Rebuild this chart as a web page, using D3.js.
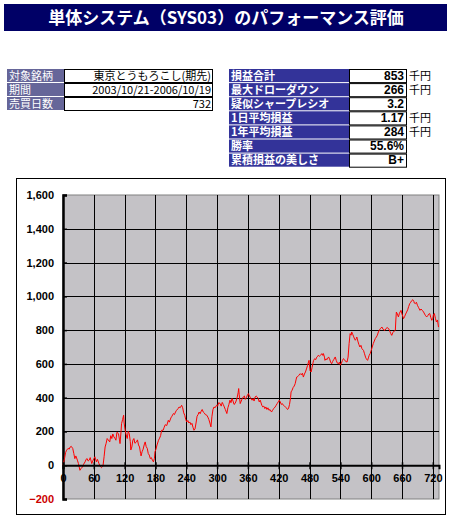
<!DOCTYPE html>
<html><head><meta charset="utf-8">
<script src="https://cdn.jsdelivr.net/npm/d3@7"></script>
<style>
body{margin:0;background:#fff;}
svg{display:block;}
</style></head><body>
<script>
const title = "単体システム（SYS03）のパフォーマンス評価";
const leftLabels = ["対象銘柄","期間","売買日数"];
const leftValues = ["東京とうもろこし(期先)","2003/10/21-2006/10/19","732"];
const rightLabels = ["損益合計","最大ドローダウン","疑似シャープレシオ","1日平均損益","1年平均損益","勝率","累積損益の美しさ"];
const rightValues = ["853","266","3.2","1.17","284","55.6%","B+"];
const rightUnits = ["千円","千円","","千円","千円","",""];
const yTicks = [-200,0,200,400,600,800,1000,1200,1400,1600];
const xTicks = [0,60,120,180,240,300,360,420,480,540,600,660,720];
const days = [0,3,5,7,10,12,14,16,19,21,23,25,28,30,33,35,38,40,43,45,47,49,51,53,56,58,60,62,65,67,70,72,75,77,78,80,82,84,86,88,91,93,95,97,99,101,103,105,108,110,111,113,114,116,118,119,121,123,125,127,129,131,132,134,136,138,140,143,145,147,149,151,152,154,156,158,160,162,164,166,168,170,172,174,176,178,179,181,183,186,188,190,192,195,197,199,202,205,207,210,212,215,217,219,221,224,226,228,231,233,235,237,239,241,243,245,247,249,251,253,255,257,259,261,263,265,267,269,271,273,275,277,280,282,284,286,288,290,292,294,296,299,301,303,306,308,310,312,314,316,319,321,323,325,327,329,331,333,335,337,339,341,342,343,345,347,349,351,353,355,357,359,361,363,365,368,370,372,374,376,378,380,382,384,387,389,391,393,395,397,399,401,403,406,408,410,413,415,417,419,421,423,425,427,429,431,433,435,437,439,441,443,444,446,448,449,451,452,454,455,457,459,461,462,464,466,468,470,472,474,476,478,479,481,483,485,487,488,490,492,494,496,497,499,501,503,504,506,507,509,510,512,514,517,519,521,523,525,527,530,532,534,536,538,540,542,544,546,548,550,553,555,557,559,561,562,564,566,568,569,571,572,574,576,578,580,582,585,587,589,590,592,593,595,596,598,600,602,604,606,608,610,612,614,616,618,621,623,625,627,629,631,634,636,638,640,642,645,647,648,649,651,653,655,658,660,663,665,667,669,671,673,675,677,679,681,683,684,686,688,690,692,695,697,700,702,704,706,708,710,712,714,716,718,720,721,723,725,727,729,731];
const pnl = [0,40,75,89,100,95,108,112,99,70,39,55,30,10,-30,-20,-10,5,20,35,39,25,30,45,10,25,39,50,20,35,10,-5,-14,-8,0,50,108,130,158,150,138,175,158,185,168,160,148,195,187,150,128,200,246,270,296,250,207,180,158,200,187,140,90,108,148,158,130,138,150,120,108,70,55,80,95,120,138,110,100,69,60,39,45,30,20,40,79,95,120,148,160,175,207,207,225,240,235,266,255,280,290,306,300,315,325,335,345,340,355,340,310,296,270,256,265,250,256,240,248,225,207,215,250,290,300,315,305,320,330,315,310,300,296,285,270,250,227,290,330,345,340,355,350,370,365,350,372,360,345,330,306,340,360,385,370,395,380,360,365,380,400,430,454,420,365,380,395,404,410,390,400,415,424,410,400,385,395,380,404,410,404,395,375,385,355,345,350,335,345,330,340,325,330,315,325,335,345,355,365,375,385,375,360,365,355,350,345,340,330,335,360,400,434,444,460,463,475,483,510,522,525,532,540,542,535,545,522,540,552,570,590,611,621,560,552,580,610,621,631,625,640,645,651,645,651,655,661,650,661,640,621,630,625,641,630,610,601,615,625,641,620,605,600,610,592,605,620,631,625,615,611,640,720,779,770,789,775,760,745,740,750,759,735,715,700,710,690,680,660,640,631,625,621,640,650,661,680,700,720,735,750,759,770,789,800,810,818,805,800,799,810,815,809,795,780,769,785,795,799,860,907,895,878,900,917,895,868,880,895,907,920,940,957,965,975,980,970,960,957,965,947,935,917,925,915,907,895,885,878,885,895,898,875,858,870,890,898,870,848,860,818];

const W = 453, H = 523;
const svg = d3.select("body").append("svg").attr("width", W).attr("height", H);
const jp = "'Noto Sans CJK JP','Noto Sans',sans-serif";
const num = "'Liberation Sans',Arial,sans-serif";

// Title bar
svg.append("rect").attr("x",4).attr("y",4).attr("width",443).attr("height",27).attr("fill","#000066");
svg.append("text").attr("x",226).attr("y",24).attr("text-anchor","middle")
  .attr("fill","#fff").attr("font-family",jp).attr("font-weight","bold").attr("font-size",17).text(title);

// Left table
const lt = {x:7, lw:57, vw:148, y:69, rh:14};
const tfs = 11;
leftLabels.forEach((lab,i)=>{
  const y = lt.y + i*lt.rh;
  svg.append("rect").attr("x",lt.x).attr("y",y).attr("width",lt.lw).attr("height",lt.rh-1).attr("fill","#666699");
  svg.append("text").attr("x",lt.x+2).attr("y",y+10.5).attr("fill","#fff").attr("font-family",jp).attr("font-size",tfs).text(lab);
  svg.append("rect").attr("x",lt.x+lt.lw+0.5).attr("y",y+0.5).attr("width",lt.vw).attr("height",lt.rh-1).attr("fill","#fff").attr("stroke","#000");
  svg.append("text").attr("x",lt.x+lt.lw+lt.vw-1).attr("y",y+10.5).attr("text-anchor","end").attr("fill","#000").attr("font-family",jp).attr("font-size",tfs).text(leftValues[i]);
});

// Right table
const rt = {x:229, lw:120, vw:58, y:69, rh:14.1};
rightLabels.forEach((lab,i)=>{
  const y = rt.y + i*rt.rh;
  svg.append("rect").attr("x",rt.x).attr("y",y).attr("width",rt.lw).attr("height",rt.rh-1).attr("fill","#333399");
  svg.append("text").attr("x",rt.x+2).attr("y",y+10.5).attr("fill","#fff").attr("font-family",jp).attr("font-weight","bold").attr("font-size",tfs).text(lab);
  svg.append("rect").attr("x",rt.x+rt.lw+0.5).attr("y",y+0.5).attr("width",rt.vw-1).attr("height",rt.rh-1).attr("fill","#fff").attr("stroke","#000");
  svg.append("text").attr("x",rt.x+rt.lw+rt.vw-3).attr("y",y+10.5).attr("text-anchor","end").attr("fill","#000").attr("font-family",num).attr("font-weight","bold").attr("font-size",12).text(rightValues[i]);
  if (rightUnits[i]) svg.append("text").attr("x",rt.x+rt.lw+rt.vw+2).attr("y",y+10.5).attr("fill","#000").attr("font-family",jp).attr("font-size",tfs).text(rightUnits[i]);
});

// Chart box
svg.append("rect").attr("x",16.5).attr("y",178.5).attr("width",429).attr("height",336).attr("fill","#fff").attr("stroke","#000");

const x = d3.scaleLinear().domain([0,732]).range([63,439]);
const y = d3.scaleLinear().domain([-200,1600]).range([499,195]);

// plot area
svg.append("rect").attr("x",x(0)).attr("y",y(1600)).attr("width",x(732)-x(0)).attr("height",y(-200)-y(1600))
  .attr("fill","#c4c2c6").attr("stroke","#808080");

// gridlines
svg.append("g").selectAll("line").data(yTicks.filter(v=>v>-200 && v<1600)).join("line")
  .attr("x1",x(0)).attr("x2",x(732)).attr("y1",d=>Math.round(y(d))+0.5).attr("y2",d=>Math.round(y(d))+0.5)
  .attr("stroke","#000").attr("stroke-width",1);
svg.append("g").selectAll("line").data(xTicks.filter(v=>v>0)).join("line")
  .attr("x1",d=>Math.round(x(d))+0.5).attr("x2",d=>Math.round(x(d))+0.5).attr("y1",y(1600)).attr("y2",y(-200))
  .attr("stroke","#000").attr("stroke-width",1);

// y axis
const yAxis = d3.axisLeft(y).tickValues(yTicks).tickSize(-4).tickPadding(9).tickFormat(d3.format(","));
const ga = svg.append("g").attr("transform",`translate(${x(0)},0)`).call(yAxis);
ga.select(".domain").attr("stroke","#000").attr("stroke-width",2.5);
ga.selectAll(".tick line").attr("stroke","#000").attr("stroke-width",1.5);
ga.selectAll("text").attr("font-family",num).attr("font-weight","bold").attr("font-size",11)
  .attr("fill",d=>d<0?"#cc0000":"#000");

// line
const line = d3.line().x((d,i)=>x(days[i])).y(d=>y(d));
svg.append("path").datum(pnl).attr("d",line).attr("fill","none").attr("stroke","#ff0000").attr("stroke-width",1);

// x axis at zero
const xAxis = d3.axisBottom(x).tickValues(xTicks).tickSize(4).tickPadding(5).tickFormat(d3.format("d"));
const gx = svg.append("g").attr("transform",`translate(0,${y(0)})`).call(xAxis);
gx.select(".domain").attr("stroke","#000").attr("stroke-width",2);
gx.selectAll(".tick line").attr("stroke","#000").attr("stroke-width",1.5).attr("y1",-3);
gx.selectAll("text").attr("font-family",num).attr("font-weight","bold").attr("font-size",11).attr("fill","#000");
</script>
</body></html>
